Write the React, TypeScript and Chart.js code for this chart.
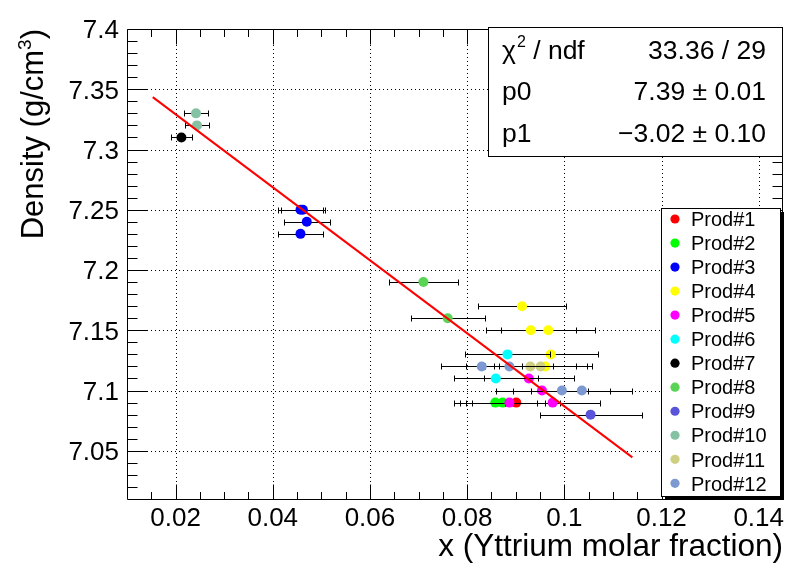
import { useEffect, useRef } from "react";
import { Chart, registerables } from "chart.js";

Chart.register(...registerables);

const FONT = '"Liberation Sans", Arial, Helvetica, sans-serif';

// ---- data ----
const productNames = [
  "Prod#1", "Prod#2", "Prod#3", "Prod#4", "Prod#5", "Prod#6",
  "Prod#7", "Prod#8", "Prod#9", "Prod#10", "Prod#11", "Prod#12",
];
const productColors = [
  "#ff0000", "#00ff00", "#0000ff", "#ffff00", "#ff00ff", "#00ffff",
  "#000000", "#59d454", "#5954d9", "#85c2a3", "#cfcf82", "#7d99d1",
];

const prod1X = [0.0901];
const prod1Y = [7.09];
const prod1Err = [0.009];

const prod2X = [0.0858, 0.0873];
const prod2Y = [7.09, 7.09];
const prod2Err = [0.0086, 0.0087];

const prod3X = [0.0457, 0.0462, 0.047, 0.0457];
const prod3Y = [7.25, 7.25, 7.24, 7.23];
const prod3Err = [0.0046, 0.0046, 0.0047, 0.0046];

const prod4X = [0.0913, 0.0931, 0.0967, 0.0972, 0.0961];
const prod4Y = [7.17, 7.15, 7.15, 7.13, 7.12];
const prod4Err = [0.0091, 0.0093, 0.0097, 0.0097, 0.0096];

const prod5X = [0.0927, 0.0954, 0.0887, 0.0976];
const prod5Y = [7.11, 7.1, 7.09, 7.09];
const prod5Err = [0.0093, 0.0095, 0.0089, 0.0098];

const prod6X = [0.0883, 0.0859];
const prod6Y = [7.13, 7.11];
const prod6Err = [0.0088, 0.0086];

const prod7X = [0.0212];
const prod7Y = [7.31];
const prod7Err = [0.0021];

const prod8X = [0.071, 0.076];
const prod8Y = [7.19, 7.16];
const prod8Err = [0.0071, 0.0076];

const prod9X = [0.1054];
const prod9Y = [7.08];
const prod9Err = [0.0105];

const prod10X = [0.0242, 0.0244];
const prod10Y = [7.33, 7.32];
const prod10Err = [0.0024, 0.0024];

const prod11X = [0.093, 0.0951];
const prod11Y = [7.12, 7.12];
const prod11Err = [0.0093, 0.0095];

const prod12X = [0.083, 0.0887, 0.0995, 0.1036];
const prod12Y = [7.12, 7.12, 7.1, 7.1];
const prod12Err = [0.0083, 0.0089, 0.01, 0.0104];

const fitX = [0.0153, 0.114];
const fitY = [7.3435, 7.0445];

const xTickValues = [0.02, 0.04, 0.06, 0.08, 0.1, 0.12, 0.14];
const xTickLabels = ["0.02", "0.04", "0.06", "0.08", "0.1", "0.12", "0.14"];
const yTickValues = [7.05, 7.1, 7.15, 7.2, 7.25, 7.3, 7.35, 7.4];
const yTickLabels = ["7.05", "7.1", "7.15", "7.2", "7.25", "7.3", "7.35", "7.4"];

const statsLabels = ["p0", "p1"];
const statsValues = ["33.36 / 29", "7.39 \u00b1 0.01", "\u22123.02 \u00b1 0.10"];

const X_MIN = 0.01, X_MAX = 0.145, Y_MIN = 7.01, Y_MAX = 7.4;

const seriesX = [prod1X, prod2X, prod3X, prod4X, prod5X, prod6X, prod7X, prod8X, prod9X, prod10X, prod11X, prod12X];
const seriesY = [prod1Y, prod2Y, prod3Y, prod4Y, prod5Y, prod6Y, prod7Y, prod8Y, prod9Y, prod10Y, prod11Y, prod12Y];
const seriesErr = [prod1Err, prod2Err, prod3Err, prod4Err, prod5Err, prod6Err, prod7Err, prod8Err, prod9Err, prod10Err, prod11Err, prod12Err];

const rootPlugin = {
  id: "rootStyle",
  beforeDatasetsDraw(chart: any) {
    const { ctx, chartArea: a, scales } = chart;
    const xs = scales.x, ys = scales.y;
    ctx.save();
    ctx.strokeStyle = "#000";
    ctx.lineWidth = 1;
    ctx.setLineDash([1, 3]);
    ctx.beginPath();
    for (const v of xTickValues) {
      const px = Math.round(xs.getPixelForValue(v)) + 0.5;
      ctx.moveTo(px, a.top);
      ctx.lineTo(px, a.bottom);
    }
    for (const v of yTickValues) {
      if (v >= Y_MAX) continue;
      const py = Math.round(ys.getPixelForValue(v)) + 0.5;
      ctx.moveTo(a.left, py);
      ctx.lineTo(a.right, py);
    }
    ctx.stroke();
    ctx.restore();
  },
  beforeDatasetDraw(chart: any, args: any) {
    const ds = chart.data.datasets[args.index];
    if (!ds.errX) return;
    const { ctx, scales } = chart;
    const xs = scales.x, ys = scales.y;
    ctx.save();
    ctx.strokeStyle = "#000";
    ctx.lineWidth = 1;
    ctx.beginPath();
    ds.data.forEach((p: any, j: number) => {
      const e = ds.errX[j];
      const x1 = Math.round(xs.getPixelForValue(p.x - e)) + 0.5;
      const x2 = Math.round(xs.getPixelForValue(p.x + e)) + 0.5;
      const py = Math.round(ys.getPixelForValue(p.y)) + 0.5;
      ctx.moveTo(x1, py);
      ctx.lineTo(x2, py);
      ctx.moveTo(x1, py - 3);
      ctx.lineTo(x1, py + 3);
      ctx.moveTo(x2, py - 3);
      ctx.lineTo(x2, py + 3);
    });
    ctx.stroke();
    ctx.restore();
  },
  afterDatasetsDraw(chart: any) {
    const { ctx, chartArea: a, scales } = chart;
    const xs = scales.x, ys = scales.y;
    const L = Math.round(a.left) + 0.5;
    const R = Math.round(a.right) - 0.5;
    const T = Math.round(a.top) + 0.5;
    const B = Math.round(a.bottom) + 0.5;
    ctx.save();
    ctx.strokeStyle = "#000";
    ctx.lineWidth = 1;
    ctx.setLineDash([]);
    ctx.beginPath();
    ctx.rect(L, T, R - L, B - T);
    const xMaj = 15, xMin = 7.5, yMaj = 20, yMin = 10;
    for (const v of xTickValues) {
      const px = Math.round(xs.getPixelForValue(v)) + 0.5;
      ctx.moveTo(px, B); ctx.lineTo(px, B - xMaj);
      ctx.moveTo(px, T); ctx.lineTo(px, T + xMaj);
    }
    for (let k = 3; k <= 28; k++) {
      if (k % 4 === 0) continue;
      const px = Math.round(xs.getPixelForValue(k * 0.005)) + 0.5;
      ctx.moveTo(px, B); ctx.lineTo(px, B - xMin);
      ctx.moveTo(px, T); ctx.lineTo(px, T + xMin);
    }
    for (const v of yTickValues) {
      const py = Math.round(ys.getPixelForValue(v)) + 0.5;
      ctx.moveTo(L, py); ctx.lineTo(L + yMaj, py);
      ctx.moveTo(R, py); ctx.lineTo(R - yMaj, py);
    }
    for (let k = 702; k <= 739; k++) {
      if (k % 5 === 0) continue;
      const py = Math.round(ys.getPixelForValue(k / 100)) + 0.5;
      ctx.moveTo(L, py); ctx.lineTo(L + yMin, py);
      ctx.moveTo(R, py); ctx.lineTo(R - yMin, py);
    }
    ctx.stroke();

    // tick labels
    ctx.fillStyle = "#000";
    ctx.font = `26px ${FONT}`;
    ctx.textBaseline = "alphabetic";
    ctx.textAlign = "center";
    xTickValues.forEach((v, i) => {
      ctx.fillText(xTickLabels[i], xs.getPixelForValue(v), a.bottom + 27);
    });
    ctx.textAlign = "right";
    yTickValues.forEach((v, i) => {
      ctx.fillText(yTickLabels[i], a.left - 8, ys.getPixelForValue(v) + 9.3);
    });

    // x title
    ctx.font = `31.5px ${FONT}`;
    ctx.textAlign = "right";
    ctx.fillText("x (Yttrium molar fraction)", a.right, 556);

    // y title (rotated, aligned to top end)
    ctx.save();
    ctx.translate(43, a.top);
    ctx.rotate(-Math.PI / 2);
    ctx.textAlign = "left";
    const main = "Density (g/cm";
    ctx.font = `31px ${FONT}`;
    const w1 = ctx.measureText(main).width;
    const w3 = ctx.measureText(")").width;
    ctx.font = `19px ${FONT}`;
    const w2 = ctx.measureText("3").width;
    const W = w1 + w2 + w3;
    ctx.font = `31px ${FONT}`;
    ctx.fillText(main, -W, 0);
    ctx.font = `19px ${FONT}`;
    ctx.fillText("3", -W + w1, -12);
    ctx.font = `31px ${FONT}`;
    ctx.fillText(")", -W + w1 + w2, 0);
    ctx.restore();

    ctx.restore();
  },
  afterDraw(chart: any) {
    const { ctx } = chart;
    ctx.save();
    ctx.setLineDash([]);
    // stats box
    const sx = 488, sy = 27, sw = 294, sh = 129;
    ctx.fillStyle = "#fff";
    ctx.fillRect(sx, sy, sw, sh);
    ctx.strokeStyle = "#000";
    ctx.lineWidth = 1;
    ctx.strokeRect(sx + 0.5, sy + 0.5, sw, sh);
    ctx.fillStyle = "#000";
    ctx.font = `26.5px ${FONT}`;
    ctx.textBaseline = "alphabetic";
    ctx.textAlign = "left";
    const rowBase = [59, 100.3, 141.5];
    const lx = 502, rx = 766;
    ctx.fillText("\u03c7", lx, rowBase[0]);
    const wc = ctx.measureText("\u03c7").width;
    ctx.font = `16px ${FONT}`;
    ctx.fillText("2", lx + wc + 1, rowBase[0] - 12);
    const w2 = ctx.measureText("2").width;
    ctx.font = `26.5px ${FONT}`;
    ctx.fillText(" / ndf", lx + wc + 1 + w2, rowBase[0]);
    statsLabels.forEach((s, i) => ctx.fillText(s, lx, rowBase[i + 1]));
    ctx.textAlign = "right";
    statsValues.forEach((s, i) => ctx.fillText(s, rx, rowBase[i]));

    // legend
    const gx = 661, gy = 208, gw = 119, gh = 288;
    ctx.fillStyle = "#000";
    ctx.fillRect(gx + 4, gy + 4, gw, gh);
    ctx.fillStyle = "#fff";
    ctx.fillRect(gx, gy, gw, gh);
    ctx.strokeRect(gx + 0.5, gy + 0.5, gw, gh);
    ctx.font = `20px ${FONT}`;
    ctx.textAlign = "left";
    productNames.forEach((name, i) => {
      const cy = 219 + 24.03 * i;
      ctx.fillStyle = productColors[i];
      ctx.beginPath();
      ctx.arc(675, cy, 4.6, 0, Math.PI * 2);
      ctx.fill();
      ctx.fillStyle = "#000";
      ctx.fillText(name, 691, cy + 7.2);
    });
    ctx.restore();
  },
};

export default function App() {
  const ref = useRef<HTMLCanvasElement | null>(null);
  useEffect(() => {
    document.body.style.margin = "0";
    if (!ref.current) return;
    const datasets: any[] = [
      {
        label: "fit",
        data: fitX.map((x, i) => ({ x, y: fitY[i] })),
        showLine: true,
        borderColor: "#ff0000",
        borderWidth: 2,
        pointRadius: 0,
        pointHoverRadius: 0,
        fill: false,
        order: 0,
      },
      ...productNames.map((name, i) => ({
        label: name,
        data: seriesX[i].map((x, j) => ({ x, y: seriesY[i][j] })),
        errX: seriesErr[i],
        backgroundColor: productColors[i],
        borderColor: productColors[i],
        pointRadius: 5,
        pointHoverRadius: 5,
        pointBorderWidth: 0,
        showLine: false,
        order: 12 - i,
      })),
    ];
    const chart = new Chart(ref.current, {
      type: "scatter",
      data: { datasets },
      plugins: [rootPlugin],
      options: {
        animation: false,
        responsive: false,
        devicePixelRatio: 1,
        layout: { padding: { top: 29, right: 15, left: 0, bottom: 0 } },
        plugins: { legend: { display: false }, tooltip: { enabled: false } },
        events: [],
        scales: {
          x: {
            type: "linear",
            min: X_MIN,
            max: X_MAX,
            ticks: { display: false },
            grid: { display: false },
            border: { display: false },
            afterFit: (s: any) => { s.height = 75; },
          },
          y: {
            type: "linear",
            min: Y_MIN,
            max: Y_MAX,
            ticks: { display: false },
            grid: { display: false },
            border: { display: false },
            afterFit: (s: any) => { s.width = 127; },
          },
        },
      } as any,
    });
    return () => chart.destroy();
  }, []);
  return (
    <canvas ref={ref} width={798} height={574} style={{ display: "block", width: 798, height: 574 }} />
  );
}
